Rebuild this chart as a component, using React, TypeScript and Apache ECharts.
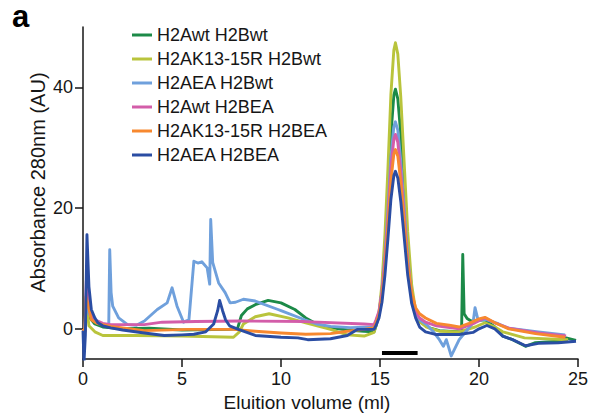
import React, { useEffect, useRef } from "react";
import * as echarts from "echarts";

const seriesNames = [
  "H2Awt H2Bwt",
  "H2AK13-15R H2Bwt",
  "H2AEA H2Bwt",
  "H2Awt H2BEA",
  "H2AK13-15R H2BEA",
  "H2AEA H2BEA",
];

const xTicks = [0, 5, 10, 15, 20, 25];
const yTicks = [0, 20, 40];

const wtWt: [number, number][] = [
  [0, 0], [0.1, -0.3], [0.17, 5], [0.3, 2], [0.6, 0.8], [1.0, 0.3], [2.0, 0], [3.35, 0.1], [5.0, -0.2],
  [7.35, -0.1], [7.8, 0], [8.0, 2.2], [8.3, 3.3], [8.7, 4.0], [9.35, 4.7], [10.0, 4.3], [10.7, 3.2],
  [11.25, 1.8], [11.85, 0.7], [12.5, 0.2], [13.35, -0.2], [14.2, -0.4], [14.7, -0.5], [14.8, 0.5],
  [14.95, 2.3], [15.1, 6.3], [15.25, 13.1], [15.4, 22.2], [15.55, 32.1], [15.7, 38.7], [15.78, 39.7],
  [15.9, 38.1], [16.05, 32.2], [16.2, 24.2], [16.4, 13.5], [16.6, 6.2], [16.8, 2.6], [17.0, 1.2],
  [17.5, 0.15], [18.0, -0.3], [19.12, -0.5], [19.18, 12.3], [19.25, 2.5], [19.4, 1.7], [19.6, 1.3],
  [20.3, 1.5], [20.8, 0.3], [21.2, -1.2], [21.7, -1.8], [22.35, -2.9], [22.85, -2.3], [24.0, -2.05],
  [24.4, -1.5], [24.9, -1.9],
];

const k13Wt: [number, number][] = [
  [0, 0], [0.1, -0.3], [0.17, 4], [0.3, 0.5], [0.6, -0.5], [1.0, -1.1], [2.7, -1.1], [5.0, -1.2],
  [7.6, -1.4], [7.9, -0.5], [8.1, 0.8], [8.7, 2.0], [9.4, 2.5], [10.35, 1.8], [11.25, 1.0], [12.5, -0.1],
  [13.35, -1.0], [14.2, -1.2], [14.7, -0.6], [14.8, 0.6], [14.95, 2.7], [15.1, 7.5], [15.25, 15.6],
  [15.4, 26.5], [15.55, 38.8], [15.7, 46.2], [15.78, 47.4], [15.9, 45.5], [16.05, 38.4], [16.2, 28.9],
  [16.4, 16.1], [16.6, 7.3], [16.8, 3.0], [17.0, 1.2], [17.35, 0.3], [18.0, -0.4], [19.0, -0.5],
  [19.8, 0.3], [20.3, 1.0], [20.8, 0.3], [21.2, -0.5], [22.3, -1.5], [24.5, -1.8],
];

const eaWt: [number, number][] = [
  [0, 0], [0.1, -0.3], [0.17, 6], [0.3, 2.5], [0.6, 1.2], [1.0, 0.7], [1.3, 0.5], [1.35, 13.1],
  [1.42, 6], [1.5, 3.75], [1.8, 1.8], [2.25, 0.7], [2.7, 0.6], [3.1, 1.3], [3.75, 3.2], [4.25, 4.3],
  [4.5, 6.8], [4.75, 3.75], [5.08, 1.1], [5.35, 1.5], [5.6, 11.2], [5.8, 10.9], [6.0, 11.1],
  [6.27, 10.1], [6.4, 7.4], [6.45, 18.1], [6.55, 11], [6.85, 7.6], [7.18, 6.0], [7.43, 4.3],
  [7.7, 4.4], [8.1, 4.9], [8.7, 4.6], [9.85, 3.2], [10.0, 3.0], [11.2, 1.5], [11.8, 0.8], [12.5, 0.4],
  [13.5, 0.2], [14.7, 0.3], [14.8, 1.2], [14.95, 2.7], [15.1, 6.1], [15.25, 11.9], [15.4, 19.8],
  [15.55, 28.4], [15.7, 33.5], [15.78, 34.3], [15.9, 32.9], [16.05, 27.8], [16.2, 21.0], [16.4, 11.8],
  [16.6, 5.7], [16.8, 2.6], [17.0, 1.5], [17.35, 0.7], [17.7, -0.5], [18.0, -1.8], [18.2, -2.9],
  [18.35, -1.8], [18.6, -4.5], [19.0, -1.8], [19.35, -0.4], [19.7, 1.0], [19.8, 3.5], [19.95, 1.5],
  [20.4, 1.5], [21.0, 0.8], [21.5, 0.1], [23.0, -0.5], [24.35, -1.0],
];

const wtEa: [number, number][] = [
  [0, 0], [0.1, -0.3], [0.17, 8], [0.35, 3], [0.6, 1.5], [1.0, 0.9], [1.4, 0.7], [3.1, 0.7],
  [4.0, 1.1], [5.7, 1.2], [8.0, 1.3], [11.2, 1.2], [14.2, 0.8], [14.7, 0.7], [14.8, 1.5], [14.95, 2.9],
  [15.1, 6.2], [15.25, 11.5], [15.4, 18.6], [15.55, 26.7], [15.7, 31.4], [15.78, 32.2], [15.9, 30.9],
  [16.05, 26.1], [16.2, 19.7], [16.4, 11.2], [16.6, 5.5], [16.8, 2.8], [17.0, 1.8], [17.3, 1.1],
  [17.85, 0.5], [19.0, 0], [19.8, 1.0], [20.3, 1.8], [20.8, 1.0], [21.5, 0.1], [23.0, -0.7], [24.4, -1.2],
];

const k13Ea: [number, number][] = [
  [0, 0], [0.1, -0.5], [0.15, 5.3], [0.25, 4], [0.42, 1.5], [0.7, 0.9], [1.4, 0.4], [3.1, -0.3],
  [5.3, -0.1], [7.6, -0.1], [8.7, -0.4], [10.0, -0.7], [11.25, -0.9], [12.5, -0.8], [13.35, -0.4],
  [14.2, -0.1], [14.7, 0.2], [14.8, 0.95], [14.95, 2.3], [15.1, 5.2], [15.25, 10.3], [15.4, 17.1],
  [15.55, 24.5], [15.7, 29.0], [15.78, 29.7], [15.9, 28.6], [16.05, 24.3], [16.2, 18.5], [16.4, 10.8],
  [16.6, 6.0], [16.8, 3.5], [17.0, 2.5], [17.3, 1.8], [17.85, 0.9], [18.5, 0.6], [19.0, 0.3],
  [19.5, 0.9], [20.0, 1.65], [20.3, 1.9], [20.8, 1.0], [21.5, 0], [22.85, -0.8], [24.35, -1.4],
];

const eaEa: [number, number][] = [
  [0, -0.3], [0.05, -5.5], [0.12, -1], [0.2, 15.6], [0.3, 7], [0.42, 3.2], [0.6, 1.8], [0.75, 1.0],
  [1.0, 0.5], [1.4, 0.15], [2.0, -0.2], [3.1, -0.7], [4.1, -1.1], [5.0, -1.0], [5.6, -0.9],
  [6.2, -0.5], [6.6, 0.8], [6.8, 3], [6.9, 4.7], [7.05, 3], [7.2, 1.5], [7.4, 0.5], [7.85, -0.1],
  [8.7, -1.1], [10.0, -1.4], [10.85, -1.5], [11.35, -1.8], [12.5, -1.65], [13.35, -1.1], [13.85, -0.1],
  [14.7, -0.1], [14.8, 0.55], [14.95, 1.8], [15.1, 4.4], [15.25, 8.9], [15.4, 14.9], [15.55, 21.4],
  [15.7, 25.4], [15.78, 26.1], [15.9, 25.0], [16.05, 21.1], [16.2, 15.9], [16.4, 8.9], [16.6, 4.2],
  [16.8, 1.8], [17.0, 0.3], [17.3, -0.5], [17.85, -0.95], [19.0, -0.95], [19.7, -0.6], [20.0, 0],
  [20.4, 0.55], [20.8, 0], [21.2, -1.2], [21.7, -1.8], [22.35, -2.8], [23.0, -2.4], [24.0, -2.3],
  [24.9, -2.05],
];

const fractionBar: [number, number][] = [
  [15.1, -4],
  [16.9, -4],
];

const seriesData = [wtWt, k13Wt, eaWt, wtEa, k13Ea, eaEa];
const palette = ["#1c8a48", "#b9c43c", "#6fa0dc", "#d35da9", "#f7882f", "#2a4da3"];

const FONT = "'Liberation Sans', Arial, Helvetica, sans-serif";
const INK = "#161616";

export default function App() {
  const ref = useRef<HTMLDivElement>(null);
  useEffect(() => {
    if (!ref.current) return;
    const chart = echarts.init(ref.current, null, { renderer: "svg" });
    const lines = seriesData.map((d, i) => ({
      name: seriesNames[i],
      type: "line",
      data: d,
      showSymbol: false,
      symbol: "none",
      clip: true,
      lineStyle: { color: palette[i], width: 2.9, join: "round" },
      itemStyle: { color: palette[i] },
      z: 2 + i,
    }));
    chart.setOption({
      animation: false,
      grid: { left: 83, right: 8, top: 27, bottom: 58, containLabel: false },
      legend: {
        data: seriesNames,
        orient: "vertical",
        left: 127,
        top: 21,
        icon: "rect",
        itemWidth: 20,
        itemHeight: 3,
        itemGap: 6,
        textStyle: { fontFamily: FONT, fontSize: 18, color: INK },
      },
      xAxis: {
        type: "value",
        min: 0,
        max: 25,
        interval: 5,
        splitLine: { show: false },
        axisLine: { onZero: false, lineStyle: { color: INK, width: 1.5 } },
        axisTick: { length: 8, lineStyle: { color: INK, width: 1.5 } },
        axisLabel: { fontFamily: FONT, fontSize: 18, color: INK, margin: 11, customValues: xTicks },
      },
      yAxis: {
        type: "value",
        min: -5,
        max: 50,
        splitLine: { show: false },
        axisLine: { show: true, onZero: false, lineStyle: { color: INK, width: 1.5 } },
        axisTick: { show: true, length: 8, customValues: yTicks, lineStyle: { color: INK, width: 1.5 } },
        axisLabel: { fontFamily: FONT, fontSize: 18, color: INK, margin: 10, customValues: yTicks },
      },
      graphic: [
        {
          type: "text",
          x: 12,
          y: 16,
          style: { text: "a", fontFamily: FONT, fontSize: 31, fontWeight: "bold", fill: "#000", verticalAlign: "middle" },
        },
        {
          type: "text",
          x: 307,
          y: 402.7,
          style: { text: "Eluition volume (ml)", fontFamily: FONT, fontSize: 19, fill: INK, align: "center", verticalAlign: "middle" },
        },
        {
          type: "text",
          x: 37.5,
          y: 182.5,
          rotation: Math.PI / 2,
          style: { text: "Absorbance 280nm (AU)", fontFamily: FONT, fontSize: 20, fill: INK, align: "center", verticalAlign: "middle" },
        },
      ],
      series: [
        ...lines,
        {
          name: "fraction",
          type: "line",
          data: fractionBar,
          showSymbol: false,
          symbol: "none",
          lineStyle: { color: "#000", width: 4, cap: "butt" },
          z: 10,
        },
      ],
    });
    return () => chart.dispose();
  }, []);
  return <div ref={ref} style={{ width: 591, height: 417, position: "absolute", left: 0, top: 0 }} />;
}
